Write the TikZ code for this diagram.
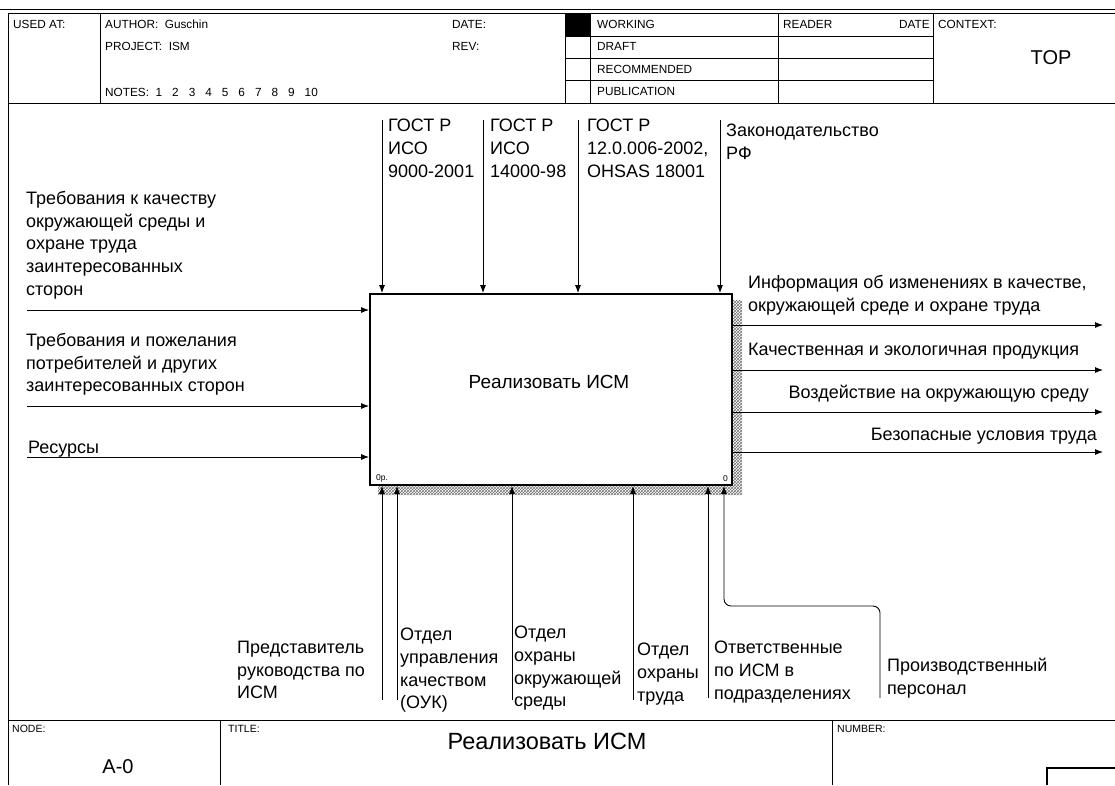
\documentclass[tikz,border=0pt]{standalone}
\usepackage{fontspec}
\setmainfont{Liberation Sans}
\usetikzlibrary{arrows.meta,patterns}

\begin{document}
\begin{tikzpicture}[x=1pt, y=-1pt,
		lbl/.style={anchor=north west, inner sep=0pt, align=left, font=\fontsize{18}{22.7}\selectfont},
		hdr/.style={anchor=west, inner sep=0pt, font=\fontsize{11.8}{13}\selectfont},
		arr/.style={line width=0.9pt, -{Latex[length=8pt,width=6pt]}}]
			\useasboundingbox (0,0) rectangle (1115,785);
			% header
			\draw[line width=1.6pt] (0,9.5) -- (1115,9.5);
			\draw[line width=0.8pt] (8,13.5) -- (1115,13.5);
			\draw[line width=0.8pt] (8,13.5) -- (8,785);
			\draw[line width=0.8pt] (8,103) -- (1115,103);
			\draw[line width=0.8pt] (100,13.5) -- (100,103) (565,13.5) -- (565,103) (590,13.5) -- (590,103) (778,13.5) -- (778,103) (933,13.5) -- (933,103);
			\draw[line width=0.8pt] (565,36.5) -- (933,36.5) (565,58) -- (933,58) (565,80) -- (933,80);
			\fill (565,13.5) rectangle (590,36.5);
			\node[hdr] (USED) at (13,24) {USED AT:};
			\node[hdr] (AUTH) at (105,24) {AUTHOR:\ \ Guschin};
			\node[hdr] (PROJ) at (105,46) {PROJECT:\ \ ISM};
			\node[hdr] (NOTES) at (105,92) {NOTES:\ \ 1\hspace{10pt}2\hspace{10pt}3\hspace{10pt}4\hspace{10pt}5\hspace{10pt}6\hspace{10pt}7\hspace{10pt}8\hspace{10pt}9\hspace{10pt}10};
			\node[hdr] (DATE) at (452,24) {DATE:};
			\node[hdr] (REV) at (452,46) {REV:};
			\node[hdr] (WORK) at (597,24) {WORKING};
			\node[hdr] (DRAFT) at (597,46) {DRAFT};
			\node[hdr] (RECOM) at (597,69) {RECOMMENDED};
			\node[hdr] (PUBL) at (597,91) {PUBLICATION};
			\node[hdr] (READ) at (783,24) {READER};
			\node[hdr, anchor=east] (RDATE) at (930,24) {DATE};
			\node[hdr] (CTX) at (938,24) {CONTEXT:};
			\node[font=\fontsize{20}{22}\selectfont] (TOP) at (1051,58) {TOP};
			% activity box
			\fill[pattern=crosshatch, pattern color=black!55] (733,300) -- (742,300) -- (742,495) -- (378,495) -- (378,486) -- (733,486) -- cycle;
			\node[draw, line width=1.8pt, fill=white, minimum width=362pt, minimum height=191pt, inner sep=0pt] (F) at (551,389.5) {};
			\node[font=\fontsize{19}{21}\selectfont] (T) at (549,382) {Реализовать ИСМ};
			\node[font=\fontsize{8.5}{9}\selectfont, anchor=south west, inner sep=0pt] (NP) at (376,482) {0p.};
			\node[font=\fontsize{8.5}{9}\selectfont, anchor=south east, inner sep=0pt] (NN) at (728,482) {0};
			% inputs
			\coordinate (I1) at (27,310);
			\coordinate (I2) at (27,406);
			\coordinate (I3) at (27,457);
			\draw[arr] (I1) -- (I1 -| F.west);
			\draw[arr] (I2) -- (I2 -| F.west);
			\draw[arr] (I3) -- (I3 -| F.west);
			\node[lbl] (LI1) at (26,191) {Требования к качеству\\окружающей среды и\\охране труда\\заинтересованных\\сторон};
			\node[lbl] (LI2) at (26,333) {Требования и пожелания\\потребителей и других\\заинтересованных сторон};
			\node[lbl] (LI3) at (28,441) {Ресурсы};
			% controls
			\coordinate (C1) at (382,120);
			\coordinate (C2) at (483,120);
			\coordinate (C3) at (578,120);
			\coordinate (C4) at (720,120);
			\draw[arr] (C1) -- (C1 |- F.north);
			\draw[arr] (C2) -- (C2 |- F.north);
			\draw[arr] (C3) -- (C3 |- F.north);
			\draw[arr] (C4) -- (C4 |- F.north);
			\node[lbl] (LC1) at (388,119) {ГОСТ Р\\ИСО\\9000-2001};
			\node[lbl] (LC2) at (490,119) {ГОСТ Р\\ИСО\\14000-98};
			\node[lbl] (LC3) at (587,119) {ГОСТ Р\\12.0.006-2002,\\OHSAS 18001};
			\node[lbl] (LC4) at (726,124) {Законодательство\\РФ};
			% outputs
			\coordinate (O1) at (1103,325);
			\coordinate (O2) at (1103,370);
			\coordinate (O3) at (1103,412);
			\coordinate (O4) at (1103,452);
			\draw[arr] (O1 -| F.east) -- (O1);
			\draw[arr] (O2 -| F.east) -- (O2);
			\draw[arr] (O3 -| F.east) -- (O3);
			\draw[arr] (O4 -| F.east) -- (O4);
			\node[lbl] (LO1) at (748,275) {Информация об изменениях в качестве,\\окружающей среде и охране труда};
			\node[lbl] (LO2) at (748,343) {Качественная и экологичная продукция};
			\node[lbl, anchor=north east] (LO3) at (1089,385) {Воздействие на окружающую среду};
			\node[lbl, anchor=north east] (LO4) at (1097,428) {Безопасные условия труда};
			% mechanisms
			\coordinate (M1) at (382,700);
			\coordinate (M2) at (397,700);
			\coordinate (M3) at (512,700);
			\coordinate (M4) at (633,700);
			\coordinate (M5) at (708,698);
			\coordinate (M6) at (880,698);
			\coordinate (K) at (724,606);
			\draw[arr] (M1) -- (M1 |- F.south);
			\draw[arr] (M2) -- (M2 |- F.south);
			\draw[arr] (M3) -- (M3 |- F.south);
			\draw[arr] (M4) -- (M4 |- F.south);
			\draw[arr] (M5) -- (M5 |- F.south);
			\draw[arr, rounded corners=7pt] (M6) |- (K) -- (K |- F.south);
			\node[lbl] (LM1) at (237,641) {Представитель\\руководства по\\ИСМ};
			\node[lbl] (LM2) at (400,628) {Отдел\\управления\\качеством\\(ОУК)};
			\node[lbl] (LM3) at (514,626) {Отдел\\охраны\\окружающей\\среды};
			\node[lbl] (LM4) at (637,643) {Отдел\\охраны\\труда};
			\node[lbl] (LM5) at (714,641) {Ответственные\\по ИСМ в\\подразделениях};
			\node[lbl] (LM6) at (887,658) {Производственный\\персонал};
			% footer
			\draw[line width=0.8pt] (8,720) -- (1115,720);
			\draw[line width=0.8pt] (220,720) -- (220,785) (832,720) -- (832,785);
			\draw[line width=1.4pt] (1047,785) |- (1115,768);
			\node[hdr, font=\fontsize{10.5}{12}\selectfont] (NODE) at (12,729) {NODE:};
			\node[hdr, font=\fontsize{10.5}{12}\selectfont] (TITLE) at (228,729) {TITLE:};
			\node[hdr, font=\fontsize{10.5}{12}\selectfont] (NUM) at (837,729) {NUMBER:};
			\node[font=\fontsize{23.5}{26}\selectfont] (NAME) at (547,741) {Реализовать ИСМ};
			\node[font=\fontsize{20}{22}\selectfont] (A0) at (118,767) {A-0};
		\end{tikzpicture}
\end{document}
